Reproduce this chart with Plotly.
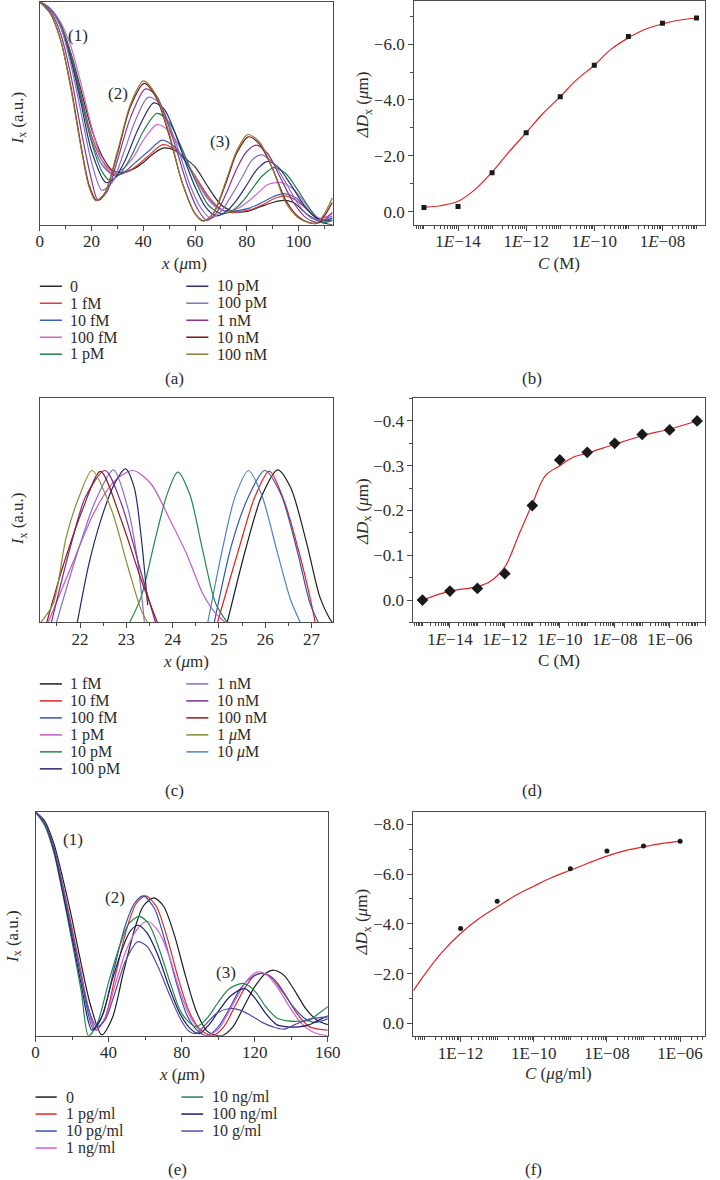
import plotly.graph_objects as go

W, H = 720, 1180
FONT = "Liberation Serif"
TXT = "#2b2b2b"
AX = "#4a4a4a"
FS = 17
LFS = 16

# ---------------- panel (a): intensity profiles ----------------
A_NAMES = ["0", "1 fM", "10 fM", "100 fM", "1 pM", "10 pM", "100 pM", "1 nM", "10 nM", "100 nM"]
A_COLORS = ["#2a2a2a", "#e43a3a", "#3f62b4", "#d066cc", "#1f8048", "#2c2c78",
            "#8472c6", "#8a3492", "#7a1414", "#8c7a36"]
A_X_0 = [0, 4, 8, 12, 16, 20, 24, 28, 32, 36, 40, 44, 48, 52, 56, 60, 65, 70, 75, 80, 85, 90, 94, 98, 103, 108, 113]
A_Y_0 = [1, 0.97, 0.90, 0.77, 0.60, 0.43, 0.31, 0.245, 0.235, 0.25, 0.28, 0.32, 0.345, 0.335, 0.30, 0.26, 0.17,
         0.09, 0.06, 0.06, 0.08, 0.10, 0.11, 0.10, 0.05, 0.015, 0.0]
A_X_1F = [0, 4, 8, 12, 16, 20, 24, 29.5, 34, 38, 42, 47.5, 52, 56, 60, 65, 70, 74, 78, 82, 86, 90, 94.5, 99, 104, 108, 113]
A_Y_1F = [1, 0.97, 0.90, 0.76, 0.58, 0.40, 0.29, 0.225, 0.24, 0.27, 0.31, 0.36, 0.34, 0.29, 0.22, 0.13, 0.07,
          0.055, 0.06, 0.07, 0.09, 0.115, 0.13, 0.11, 0.06, 0.02, 0.02]
A_X_10F = [0, 4, 8, 12, 16, 20, 24, 29, 33, 37, 42, 47.3, 52, 56, 60, 65, 69, 73, 77, 81, 85, 90, 94, 99, 104, 108, 113]
A_Y_10F = [1, 0.97, 0.89, 0.75, 0.56, 0.38, 0.27, 0.22, 0.24, 0.28, 0.33, 0.38, 0.35, 0.29, 0.21, 0.12, 0.075,
           0.06, 0.065, 0.075, 0.095, 0.125, 0.14, 0.12, 0.06, 0.02, 0.02]
A_X_100F = [0, 4, 8, 12, 16, 20, 24, 28, 32, 36, 40, 45.3, 50, 55, 60, 64, 68, 72, 76, 80, 84, 88, 93, 98, 103, 108, 113]
A_Y_100F = [1, 0.97, 0.91, 0.80, 0.63, 0.44, 0.29, 0.23, 0.25, 0.30, 0.38, 0.45, 0.42, 0.33, 0.21, 0.13, 0.08,
            0.06, 0.07, 0.10, 0.14, 0.18, 0.19, 0.16, 0.09, 0.03, 0.05]
A_X_1P = [0, 4, 8, 12, 16, 20, 24, 27, 31, 35, 40, 45.3, 50, 55, 60, 65, 70, 74, 78, 82, 86, 90.6, 95, 100, 105, 109, 113]
A_Y_1P = [1, 0.97, 0.90, 0.76, 0.57, 0.37, 0.24, 0.20, 0.23, 0.30, 0.42, 0.50, 0.46, 0.34, 0.20, 0.09, 0.05,
          0.06, 0.10, 0.16, 0.22, 0.257, 0.23, 0.15, 0.06, 0.01, 0.02]
A_X_10P = [0, 4, 8, 12, 16, 20, 25.5, 29, 33, 38, 44, 48, 52, 56, 60, 64, 68, 72, 76, 80, 84, 87.8, 92, 97, 102, 107, 110, 113]
A_Y_10P = [1, 0.97, 0.89, 0.74, 0.54, 0.33, 0.19, 0.21, 0.29, 0.43, 0.547, 0.52, 0.42, 0.29, 0.17, 0.08, 0.04,
           0.06, 0.11, 0.18, 0.25, 0.284, 0.26, 0.18, 0.09, 0.03, 0.02, 0.03]
A_X_100P = [0, 4, 8, 12, 16, 20, 24, 28, 32, 37, 41.8, 46, 50, 54, 58, 62, 66, 70, 74, 78, 82, 85.5, 90, 95, 100, 105, 109, 113]
A_Y_100P = [1, 0.97, 0.89, 0.72, 0.50, 0.28, 0.155, 0.19, 0.31, 0.47, 0.572, 0.55, 0.45, 0.32, 0.18, 0.08, 0.03,
            0.06, 0.13, 0.21, 0.29, 0.314, 0.28, 0.19, 0.09, 0.03, 0.02, 0.04]
A_X_1N = [0, 4, 8, 12, 16, 20, 22.5, 26, 30, 35, 40.8, 45, 49, 53, 57, 61, 64.5, 68, 72, 76, 80, 83.6, 88, 93, 98, 103, 108, 113]
A_Y_1N = [1, 0.96, 0.86, 0.67, 0.42, 0.20, 0.11, 0.15, 0.29, 0.48, 0.61, 0.58, 0.47, 0.33, 0.18, 0.07, 0.02,
          0.05, 0.14, 0.25, 0.33, 0.358, 0.32, 0.21, 0.10, 0.03, 0.01, 0.056]
A_X_10N = [0, 4, 8, 12, 16, 19, 21.9, 25, 30, 35, 40.3, 45, 50, 55, 60, 63.3, 67, 72, 76, 80.6, 85, 90, 95, 100, 104, 107.5, 110, 113]
A_Y_10N = [1, 0.95, 0.83, 0.62, 0.35, 0.18, 0.11, 0.14, 0.32, 0.53, 0.635, 0.57, 0.40, 0.19, 0.05, 0.018, 0.05,
           0.19, 0.32, 0.395, 0.36, 0.25, 0.11, 0.035, 0.01, 0.008, 0.04, 0.10]
A_X_100N = [0, 4, 8, 12, 16, 19, 21.6, 25, 30, 35, 40, 45, 50, 55, 60, 63, 67, 72, 76, 80.3, 85, 90, 95, 100, 104, 107, 110, 113]
A_Y_100N = [1, 0.95, 0.83, 0.61, 0.34, 0.17, 0.108, 0.14, 0.33, 0.54, 0.646, 0.58, 0.41, 0.19, 0.05, 0.016, 0.05,
            0.20, 0.33, 0.405, 0.37, 0.25, 0.10, 0.03, 0.01, 0.007, 0.05, 0.12]
A_XS = [A_X_0, A_X_1F, A_X_10F, A_X_100F, A_X_1P, A_X_10P, A_X_100P, A_X_1N, A_X_10N, A_X_100N]
A_YS = [A_Y_0, A_Y_1F, A_Y_10F, A_Y_100F, A_Y_1P, A_Y_10P, A_Y_100P, A_Y_1N, A_Y_10N, A_Y_100N]

# ---------------- panel (b): shift vs concentration ----------------
B_C = [1e-15, 1e-14, 1e-13, 1e-12, 1e-11, 1e-10, 1e-9, 1e-8, 1e-7]
B_D = [-0.16, -0.19, -1.40, -2.83, -4.12, -5.24, -6.27, -6.74, -6.93]
B_FIT_C = [1e-15, 3e-15, 1e-14, 3e-14, 1e-13, 3e-13, 1e-12, 3e-12, 1e-11, 3e-11, 1e-10, 3e-10, 1e-9, 3e-9, 1e-8, 3e-8, 1e-7]
B_FIT_D = [-0.17, -0.22, -0.38, -0.78, -1.42, -2.12, -2.83, -3.5, -4.12, -4.72, -5.24, -5.8, -6.22, -6.52, -6.72, -6.85, -6.93]

# ---------------- panel (c): peak profiles ----------------
C_NAMES = ["1 fM", "10 fM", "100 fM", "1 pM", "10 pM", "100 pM",
           "1 nM", "10 nM", "100 nM", "1 <i>μ</i>M", "10 <i>μ</i>M"]
C_COLORS = ["#1e1e1e", "#e62020", "#3454b0", "#c658c2", "#1f8a48", "#25256e",
            "#8a6ccc", "#7a2c9a", "#901a1a", "#8a8a30", "#4c84c4"]
C_X_1F = [25.18, 25.57, 25.92, 26.27, 26.55, 26.9, 27.18, 27.39, 27.45]
C_Y_1F = [0.0, 0.32, 0.56, 0.679, 0.60, 0.35, 0.114, 0.018, 0.0]
C_X_10F = [24.97, 25.42, 25.78, 26.09, 26.41, 26.76, 26.97, 27.08]
C_Y_10F = [0.0, 0.32, 0.56, 0.673, 0.54, 0.29, 0.11, 0.0]
C_X_100F = [24.9, 25.28, 25.64, 25.99, 26.34, 26.69, 26.97, 27.15]
C_Y_100F = [0.0, 0.35, 0.56, 0.676, 0.57, 0.32, 0.084, 0.0]
C_X_1P = [21.31, 21.77, 22.33, 22.75, 23.14, 23.53, 23.95, 24.3, 24.65, 24.93, 25.14]
C_Y_1P = [0.0, 0.23, 0.50, 0.63, 0.676, 0.617, 0.454, 0.306, 0.129, 0.04, 0.0]
C_X_10P = [23.07, 23.32, 23.6, 23.88, 24.11, 24.37, 24.65, 24.93, 25.18]
C_Y_10P = [0.0, 0.114, 0.35, 0.57, 0.669, 0.57, 0.32, 0.084, 0.0]
C_X_100P = [21.94, 22.19, 22.47, 22.75, 22.98, 23.17, 23.32, 23.46]
C_Y_100P = [0.0, 0.26, 0.47, 0.62, 0.683, 0.60, 0.38, 0.077]
C_X_1N = [21.49, 21.91, 22.33, 22.72, 23.03, 23.24, 23.39]
C_Y_1N = [0.0, 0.29, 0.54, 0.679, 0.51, 0.277, 0.0]
C_X_10N = [21.38, 21.77, 22.12, 22.54, 22.89, 23.32, 23.63]
C_Y_10N = [0.0, 0.32, 0.56, 0.676, 0.53, 0.22, 0.0]
C_X_100N = [21.28, 21.63, 22.05, 22.44, 22.89, 23.32, 23.67]
C_Y_100N = [0.0, 0.25, 0.50, 0.672, 0.455, 0.19, 0.0]
C_X_1U = [21.15, 21.42, 21.7, 21.98, 22.26, 22.68, 23.03, 23.32, 23.46]
C_Y_1U = [0.0, 0.084, 0.38, 0.56, 0.676, 0.50, 0.25, 0.055, 0.0]
C_X_10U = [24.76, 25.07, 25.35, 25.64, 25.92, 26.27, 26.55, 26.76]
C_Y_10U = [0.0, 0.32, 0.56, 0.676, 0.57, 0.306, 0.10, 0.0]
C_XS = [C_X_1F, C_X_10F, C_X_100F, C_X_1P, C_X_10P, C_X_100P, C_X_1N, C_X_10N, C_X_100N, C_X_1U, C_X_10U]
C_YS = [C_Y_1F, C_Y_10F, C_Y_100F, C_Y_1P, C_Y_10P, C_Y_100P, C_Y_1N, C_Y_10N, C_Y_100N, C_Y_1U, C_Y_10U]

# ---------------- panel (d) ----------------
D_C = [1e-15, 1e-14, 1e-13, 1e-12, 1e-11, 1e-10, 1e-9, 1e-8, 1e-7, 1e-6, 1e-5]
D_D = [0.0, -0.020, -0.026, -0.059, -0.211, -0.313, -0.330, -0.350, -0.370, -0.380, -0.400]
D_FIT_C = [1e-15, 1e-14, 1e-13, 3e-13, 1e-12, 3e-12, 1e-11, 3e-11, 1e-10, 3e-10, 1e-9, 1e-8, 1e-7, 1e-6, 1e-5]
D_FIT_D = [0.0, -0.020, -0.030, -0.042, -0.074, -0.141, -0.215, -0.278, -0.300, -0.319, -0.328, -0.348, -0.367, -0.382, -0.400]

# ---------------- panel (e) ----------------
E_NAMES = ["0", "1 pg/ml", "10 pg/ml", "1 ng/ml", "10 ng/ml", "100 ng/ml", "10 g/ml"]
E_COLORS = ["#1e1e1e", "#e02828", "#2f50b0", "#d062d0", "#20884a", "#1c1c68", "#5a4aa2"]
E_X_0 = [0, 5, 10, 15, 20, 25, 30, 36.2, 42, 48, 54, 59, 64.7, 70, 76, 82, 88, 94, 101.7, 108, 114, 120, 126, 130.6, 136, 142, 148, 154, 160]
E_Y_0 = [1, 0.96, 0.86, 0.70, 0.52, 0.32, 0.14, 0.005, 0.08, 0.28, 0.47, 0.58, 0.616, 0.58, 0.45, 0.27, 0.11, 0.02,
         0.0, 0.04, 0.13, 0.22, 0.28, 0.293, 0.27, 0.20, 0.12, 0.07, 0.05]
E_X_1PG = [0, 5, 10, 15, 20, 25, 29, 33.1, 38, 44, 50, 55, 60.2, 66, 72, 78, 84, 90, 96.7, 103, 109, 115, 120, 125.3, 131, 137, 143, 150, 155, 160]
E_Y_1PG = [1, 0.95, 0.84, 0.67, 0.48, 0.28, 0.12, 0.025, 0.08, 0.28, 0.48, 0.59, 0.625, 0.58, 0.44, 0.26, 0.11, 0.03,
           0.0, 0.04, 0.13, 0.22, 0.27, 0.278, 0.25, 0.18, 0.10, 0.04, 0.03, 0.025]
E_X_10PG = [0, 5, 10, 15, 20, 25, 28, 31.7, 37, 43, 49, 54, 59, 65, 71, 77, 83, 89, 94, 100, 106, 112, 118, 123.5, 129, 135, 141, 147, 153, 160]
E_Y_10PG = [1, 0.95, 0.84, 0.66, 0.46, 0.27, 0.13, 0.028, 0.10, 0.30, 0.49, 0.59, 0.625, 0.57, 0.42, 0.24, 0.09, 0.02,
            0.0, 0.04, 0.12, 0.21, 0.26, 0.28, 0.26, 0.20, 0.13, 0.08, 0.06, 0.077]
E_X_1NG = [0, 5, 10, 15, 20, 25, 29, 32.6, 38, 44, 50, 56, 61.1, 67, 73, 79, 85, 93.2, 100, 106, 112, 117, 121.7, 127, 133, 139, 145, 151, 156, 160]
E_Y_1NG = [1, 0.95, 0.84, 0.66, 0.46, 0.27, 0.12, 0.025, 0.08, 0.24, 0.39, 0.48, 0.512, 0.47, 0.36, 0.20, 0.08, 0.0,
           0.03, 0.11, 0.20, 0.26, 0.286, 0.27, 0.21, 0.13, 0.06, 0.02, 0.005, 0.0]
E_X_10NG = [0, 5, 10, 15, 20, 25, 29, 34, 40, 46, 51, 56.7, 62, 68, 74, 80, 87.8, 94, 100, 106, 113.7, 120, 126, 132, 138, 144, 150, 155, 160]
E_Y_10NG = [1, 0.94, 0.82, 0.63, 0.42, 0.20, 0.0, 0.06, 0.24, 0.40, 0.50, 0.534, 0.50, 0.38, 0.23, 0.10, 0.04, 0.08,
            0.15, 0.21, 0.234, 0.20, 0.13, 0.08, 0.067, 0.065, 0.07, 0.10, 0.13]
E_X_100NG = [0, 5, 10, 15, 20, 25, 30.8, 36, 42, 48, 52, 56.1, 61, 67, 73, 79, 85, 89.6, 95, 101, 107, 114.6, 120, 126, 132, 138, 144, 150, 155, 160]
E_Y_100NG = [1, 0.95, 0.83, 0.64, 0.44, 0.23, 0.025, 0.08, 0.25, 0.40, 0.47, 0.494, 0.46, 0.36, 0.22, 0.10, 0.03, 0.01,
             0.05, 0.12, 0.18, 0.211, 0.17, 0.10, 0.05, 0.04, 0.04, 0.05, 0.07, 0.09]
E_X_10G = [0, 5, 10, 15, 20, 25, 29, 33.5, 38, 43, 49, 55.8, 61, 67, 73, 79, 84, 87.8, 93, 99, 106, 112, 118, 124, 130, 136, 142, 148, 154, 160]
E_Y_10G = [1, 0.95, 0.84, 0.66, 0.46, 0.26, 0.12, 0.04, 0.07, 0.18, 0.33, 0.42, 0.40, 0.31, 0.19, 0.08, 0.02, 0.01,
           0.05, 0.10, 0.122, 0.115, 0.09, 0.06, 0.04, 0.03, 0.05, 0.07, 0.08, 0.085]
E_XS = [E_X_0, E_X_1PG, E_X_10PG, E_X_1NG, E_X_10NG, E_X_100NG, E_X_10G]
E_YS = [E_Y_0, E_Y_1PG, E_Y_10PG, E_Y_1NG, E_Y_10NG, E_Y_100NG, E_Y_10G]

# ---------------- panel (f) ----------------
F_C = [1e-12, 1e-11, 1e-9, 1e-8, 1e-7, 1e-6]
F_D = [-3.81, -4.91, -6.21, -6.92, -7.12, -7.32]
F_FIT_C = [5.1e-14, 1e-13, 3e-13, 1e-12, 3e-12, 1e-11, 3e-11, 1e-10, 3e-10, 1e-9, 3e-9, 1e-8, 3e-8, 1e-7, 3e-7, 1e-6]
F_FIT_D = [-1.31, -1.93, -2.83, -3.61, -4.18, -4.68, -5.12, -5.51, -5.85, -6.15, -6.43, -6.72, -6.93, -7.09, -7.22, -7.32]

FIT_COLOR = "#e02424"


def xd(l, r):
    return [l / W, r / W]


def yd(t, b):
    return [1 - b / H, 1 - t / H]


fig = go.Figure()


def add_lines(xs, ys, names, colors, xa, ya):
    for x, y, n, c in zip(xs, ys, names, colors):
        fig.add_trace(go.Scatter(x=x, y=y, mode="lines", name=n, showlegend=False,
                                 line=dict(color=c, width=1.2, shape="spline", smoothing=0.8),
                                 xaxis=xa, yaxis=ya))


add_lines(A_XS, A_YS, A_NAMES, A_COLORS, "x", "y")
add_lines(C_XS, C_YS, C_NAMES, C_COLORS, "x3", "y3")
add_lines(E_XS, E_YS, E_NAMES, E_COLORS, "x5", "y5")

for fc, fd, c, d, sym, sz, xa, ya in [
    (B_FIT_C, B_FIT_D, B_C, B_D, "square", 5, "x2", "y2"),
    (D_FIT_C, D_FIT_D, D_C, D_D, "diamond", 9, "x4", "y4"),
    (F_FIT_C, F_FIT_D, F_C, F_D, "circle", 5, "x6", "y6"),
]:
    fig.add_trace(go.Scatter(x=fc, y=fd, mode="lines", showlegend=False,
                             line=dict(color=FIT_COLOR, width=1.2, shape="spline", smoothing=1.0),
                             xaxis=xa, yaxis=ya))
    fig.add_trace(go.Scatter(x=c, y=d, mode="markers", showlegend=False,
                             marker=dict(symbol=sym, size=sz, color="#1a1a1a"),
                             xaxis=xa, yaxis=ya))

tickfont = dict(family=FONT, size=FS, color=TXT)
base = dict(showline=True, linecolor=AX, linewidth=1, mirror=True, showgrid=False, zeroline=False,
            ticks="outside", ticklen=5, tickcolor=AX, tickfont=tickfont)


def lin_x(dom, rng, tv, minor_dt, anchor):
    return dict(base, domain=dom, range=rng, tickvals=tv, ticktext=[str(v) for v in tv], anchor=anchor,
                ticklabelstandoff=-4,
                minor=dict(dtick=minor_dt, ticks="outside", ticklen=3, tickcolor=AX, showgrid=False))


def log_x(dom, rng, tv, tt, anchor):
    return dict(base, type="log", domain=dom, range=rng, tickvals=tv, ticktext=tt, anchor=anchor,
                ticklabelstandoff=-4,
                minor=dict(dtick="D1", ticks="outside", ticklen=3, tickcolor=AX, showgrid=False))


def no_y(dom, anchor):
    return dict(showline=True, linecolor=AX, linewidth=1, mirror=True, showgrid=False, zeroline=False,
                domain=dom, range=[0, 1], showticklabels=False, ticks="", anchor=anchor)


def val_y(dom, rng, tv, tt, minor_dt, anchor):
    return dict(base, domain=dom, range=rng, tickvals=tv, ticktext=tt, anchor=anchor,
                minor=dict(dtick=minor_dt, tick0=0, ticks="outside", ticklen=3, tickcolor=AX, showgrid=False))


it = lambda e: "1<i>E</i>−%02d" % e
up = lambda e: "1E−%02d" % e

fig.update_layout(
    width=W, height=H, margin=dict(l=0, r=0, t=0, b=0),
    paper_bgcolor="white", plot_bgcolor="white",
    font=dict(family=FONT, size=FS, color=TXT),
    xaxis=lin_x(xd(36.7, 337), [0, 113.3], [0, 20, 40, 60, 80, 100], 10, "y"),
    yaxis=no_y(yd(1, 224), "x"),
    xaxis2=log_x(xd(420, 718), [-15.29, -6.75], [1e-14, 1e-12, 1e-10, 1e-8],
                 [it(14), it(12), it(10), it(8)], "y2"),
    yaxis2=val_y(yd(0.5, 224), [0.46, -7.52], [0, -2, -4, -6], ["0.0", "−2.0", "−4.0", "−6.0"], 1, "x2"),
    xaxis3=lin_x(xd(36.7, 336.7), [21.13, 27.46], [22, 23, 24, 25, 26, 27], 0.5, "y3"),
    yaxis3=no_y(yd(397, 622), "x3"),
    xaxis4=log_x(xd(419.3, 718.3), [-15.33, -4.70], [1e-14, 1e-12, 1e-10, 1e-8, 1e-6],
                 [it(14), it(12), it(10), it(8), up(6)], "y4"),
    yaxis4=val_y(yd(397, 622), [0.05, -0.452], [0, -0.1, -0.2, -0.3, -0.4],
                 ["0.0", "−0.1", "−0.2", "−0.3", "−0.4"], 0.05, "x4"),
    xaxis5=lin_x(xd(32.3, 331.7), [0, 160], [0, 40, 80, 120, 160], 20, "y5"),
    yaxis5=no_y(yd(811.7, 1035.7), "x5"),
    xaxis6=log_x(xd(419.3, 718.3), [-13.29, -5.31], [1e-12, 1e-10, 1e-8, 1e-6],
                 [up(12), up(10), up(8), up(6)], "y6"),
    yaxis6=val_y(yd(811.7, 1036), [0.51, -8.49], [0, -2, -4, -6, -8],
                 ["0.0", "−2.0", "−4.0", "−6.0", "−8.0"], 1, "x6"),
)

anns = []
shapes = []


def ann(x, y, text, angle=0, xanchor="center", size=FS):
    anns.append(dict(x=x / W, y=1 - y / H, xref="paper", yref="paper", text=text, showarrow=False,
                     font=dict(family=FONT, size=size, color=TXT), textangle=angle,
                     xanchor=xanchor, yanchor="middle"))


XT = "<i>x</i> (<i>μ</i>m)"
IT = "<i>I</i><sub>x</sub> (a.u.)"
DT = "<i>ΔD</i><sub>x</sub> (<i>μ</i>m)"

# axis titles
ann(184, 263, XT); ann(15, 117, IT, -90)
ann(568, 263, "<i>C</i> (M)"); ann(369, 104, DT, -90)
ann(186, 661, XT); ann(15, 518, IT, -90)
ann(568, 660, "C (M)"); ann(368, 511, DT, -90)
ann(182, 1074, XT); ann(10, 936, IT, -90)
ann(568, 1073, "<i>C</i> (<i>μ</i>g/ml)"); ann(368, 922, DT, -90)

# panel letters
for x, y, t in [(175, 378, "(a)"), (541, 378, "(b)"), (175, 790, "(c)"), (541, 790, "(d)"),
                (178, 1169, "(e)"), (542, 1169, "(f)")]:
    ann(x, y, t)

# peak order labels
for x, y, t, xa, ya in [(14.6, 0.85, "(1)", "x", "y"), (30.2, 0.59, "(2)", "x", "y"), (69.8, 0.376, "(3)", "x", "y"),
                        (20.7, 0.877, "(1)", "x5", "y5"), (43.3, 0.618, "(2)", "x5", "y5"),
                        (104.4, 0.281, "(3)", "x5", "y5")]:
    anns.append(dict(x=x, y=y, xref=xa, yref=ya, text=t, showarrow=False,
                     font=dict(family=FONT, size=FS, color=TXT)))


def legend(names, colors, col_x, rows_y, per_col):
    for i, (n, c) in enumerate(zip(names, colors)):
        col, row = divmod(i, per_col)
        lx0, lx1, tx = col_x[col]
        y = rows_y[row]
        shapes.append(dict(type="line", xref="paper", yref="paper", x0=lx0 / W, x1=lx1 / W,
                           y0=1 - y / H, y1=1 - y / H, line=dict(color=c, width=1.5)))
        ann(tx, y, n, xanchor="left", size=LFS)


legend(A_NAMES, A_COLORS, [(36.7, 59.3, 66), (186.7, 209.3, 216)],
       [285.5, 302.5, 319.5, 336.5, 353.5], 5)
legend(C_NAMES, C_COLORS, [(36.7, 59.3, 66), (186.7, 209.3, 216)],
       [683.5, 700.5, 717.5, 734.5, 751.5, 768.5], 6)
legend(E_NAMES, E_COLORS, [(32.3, 54, 61), (181.7, 204, 211)],
       [1097, 1114, 1131, 1148], 4)

fig.update_layout(annotations=anns, shapes=shapes)
fig.write_html("out.html", config={"displayModeBar": False},
               post_script="document.body.style.margin='0';document.body.style.padding='0';"
                           "document.body.style.overflow='hidden';")
